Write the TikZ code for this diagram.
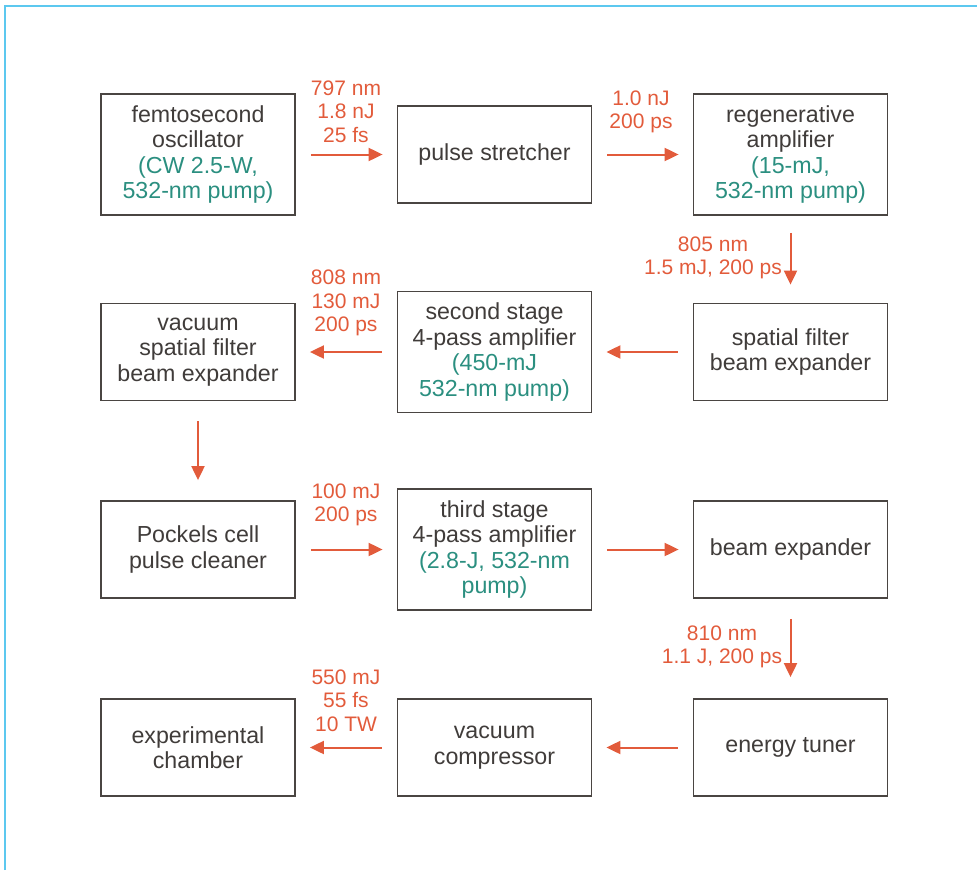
\documentclass[tikz,border=0pt]{standalone}
\usepackage{fontspec}
\setmainfont{Liberation Sans}
\usetikzlibrary{arrows.meta}
\definecolor{txtc}{HTML}{403C3A}
\definecolor{boxc}{HTML}{4A4542}
\definecolor{orc}{HTML}{E25B3B}
\definecolor{pumpc}{HTML}{2B8F80}
\definecolor{framec}{HTML}{5CC8EF}
\newcommand\pmp[1]{\textcolor{pumpc}{#1}}
\begin{document}
\begin{tikzpicture}[x=1pt,y=-1pt,
  box/.style={draw=boxc, line width=1.8pt, minimum width=194pt, minimum height=97pt,
    inner sep=0pt, align=center, text=txtc, font=\fontsize{23.2}{25.5}\selectfont},
  tall/.style={box, minimum height=121pt},
  lbl/.style={text=orc, align=center, font=\fontsize{21}{23.3}\selectfont, inner sep=0pt},
  flow/.style={draw=orc, line width=2pt, -{Triangle[length=14pt,width=13pt]}},
  hflow/.style={flow, shorten <=15pt, shorten >=14pt}]
\useasboundingbox (0,0) rectangle (977,870);
\draw[framec, line width=1.5pt] (5,870) -- (5,6) -- (977,6);

% row 1
\node[tall] (osc) at (198,154.5) {femtosecond\\oscillator\\\pmp{(CW 2.5-W,}\\\pmp{532-nm pump)}};
\node[box]  (str) at (494.5,154.5) {pulse stretcher};
\node[tall] (reg) at (790.5,154.5) {regenerative\\amplifier\\\pmp{(15-mJ,}\\\pmp{532-nm pump)}};
% row 2
\node[box]  (vsf) at (198,352) {vacuum\\spatial filter\\beam expander};
\node[tall] (sec) at (494.5,352) {second stage\\4-pass amplifier\\\pmp{(450-mJ}\\\pmp{532-nm pump)}};
\node[box]  (sfb) at (790.5,352) {spatial filter\\beam expander};
% row 3
\node[box]  (poc) at (198,549.5) {Pockels cell\\pulse cleaner};
\node[tall] (thr) at (494.5,549.5) {third stage\\4-pass amplifier\\\pmp{(2.8-J, 532-nm}\\\pmp{pump)}};
\node[box]  (bex) at (790.5,549.5) {beam expander};
% row 4
\node[box]  (exp) at (198,747.5) {experimental\\chamber};
\node[box]  (cmp) at (494.5,747.5) {vacuum\\compressor};
\node[box]  (etu) at (790.5,747.5) {energy tuner};

% connectors
\draw[hflow] (osc.east) -- (str.west);
\draw[hflow] (str.east) -- (reg.west);
\draw[flow, shorten <=17pt, shorten >=18pt] (reg.south) -- (sfb.north);
\draw[hflow] (sfb.west) -- (sec.east);
\draw[hflow] (sec.west) -- (vsf.east);
\draw[flow, shorten <=20pt, shorten >=20pt] (vsf.south) -- (poc.north);
\draw[hflow] (poc.east) -- (thr.west);
\draw[hflow] (thr.east) -- (bex.west);
\draw[flow, shorten <=20pt, shorten >=21pt] (bex.south) -- (etu.north);
\draw[hflow] (etu.west) -- (cmp.east);
\draw[hflow] (cmp.west) -- (exp.east);

% labels
\node[lbl] (l1) at (346,111.5) {797 nm\\1.8 nJ\\25 fs};
\node[lbl] (l2) at (641,112) {1.0 nJ\\200 ps};
\node[lbl] (l3) at (713,258) {805 nm\\1.5 mJ, 200 ps};
\node[lbl] (l4) at (346,303) {808 nm\\130 mJ\\200 ps};
\node[lbl] (l5) at (346,505) {100 mJ\\200 ps};
\node[lbl] (l6) at (722,647) {810 nm\\1.1 J, 200 ps};
\node[lbl] (l7) at (346,700.5) {550 mJ\\55 fs\\10 TW};
\end{tikzpicture}
\end{document}
